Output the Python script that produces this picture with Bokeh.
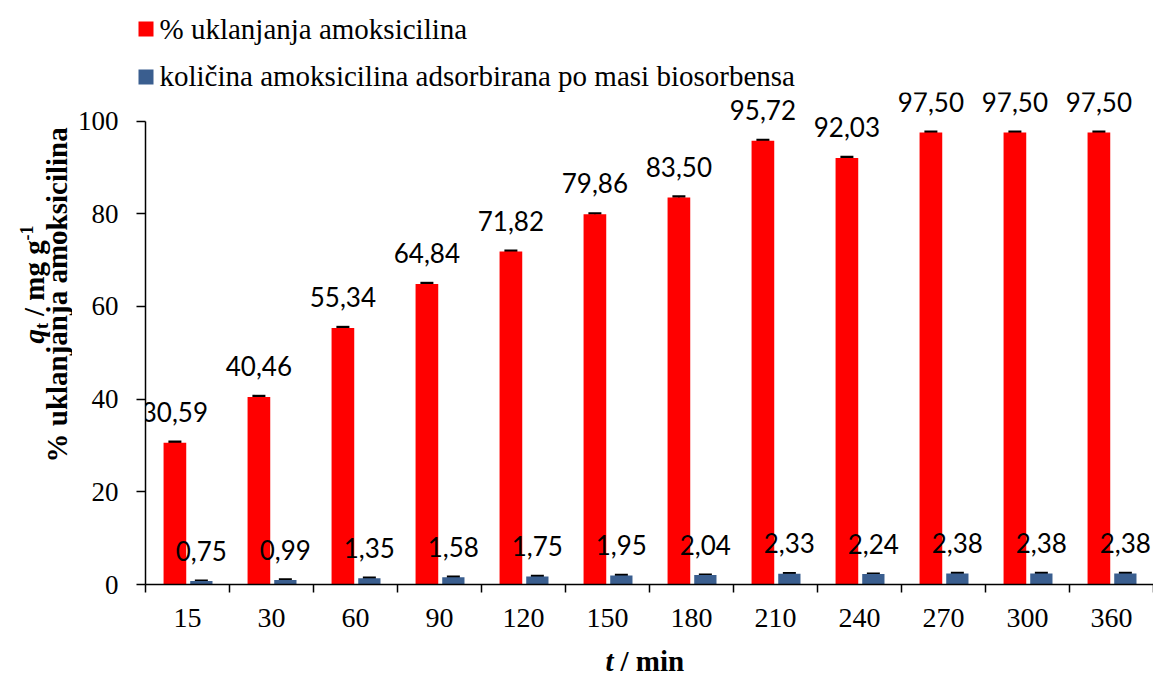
import math
from bokeh.plotting import figure
from bokeh.layouts import column, row
from bokeh.models import (ColumnDataSource, Range1d, FixedTicker, Whisker, TeeHead, Label)
from bokeh.core.properties import value
from bokeh.embed import file_html
from bokeh.resources import INLINE

# ---------------- data ----------------
times = ["15", "30", "60", "90", "120", "150", "180", "210", "240", "270", "300", "360"]
removal = [30.59, 40.46, 55.34, 64.84, 71.82, 79.86, 83.50, 95.72, 92.03, 97.50, 97.50, 97.50]
removal_err = [0.2] * 12
qt = [0.75, 0.99, 1.35, 1.58, 1.75, 1.95, 2.04, 2.33, 2.24, 2.38, 2.38, 2.38]
qt_err = [0.08] * 12
series_names = ["% uklanjanja amoksicilina",
                "količina amoksicilina adsorbirana po masi biosorbensa"]

RED = "#FF0000"
BLUE = "#3A5E8F"
SERIF = "Liberation Serif"

TOTAL_W = 1153
TOP_H = 92
LEFT_W = 72
MAIN_W = TOTAL_W - LEFT_W
MAIN_H = 546
MAIN_BOTTOM = 54
MAIN_LEFT = 73
BOT_H = 37
frame_h = MAIN_H - MAIN_BOTTOM
px_per_unit = 4.635
y_top = frame_h / px_per_unit

n = len(times)
idx = list(range(n))
x_red = [i + 0.35 for i in idx]
x_blue = [i + 0.665 for i in idx]

def fmt(v):
    return f"{v:.2f}".replace(".", ",")

src_red = ColumnDataSource(dict(x=x_red, top=removal, lo=[v - e for v, e in zip(removal, removal_err)],
                                hi=[v + e for v, e in zip(removal, removal_err)],
                                lab=[fmt(v) for v in removal]))
src_blue = ColumnDataSource(dict(x=x_blue, top=qt, lo=[v - e for v, e in zip(qt, qt_err)],
                                 hi=[v + e for v, e in zip(qt, qt_err)],
                                 lab=[fmt(v) for v in qt]))

def blank(w, h, bottom=0):
    f = figure(width=w, height=h, output_backend="svg", toolbar_location=None,
               x_axis_type=None, y_axis_type=None, x_range=Range1d(0, w), y_range=Range1d(0, h - bottom),
               min_border=0, min_border_left=0, min_border_right=0,
               min_border_top=0, min_border_bottom=bottom)
    f.outline_line_color = None
    f.xgrid.visible = False
    f.ygrid.visible = False
    f.background_fill_color = "white"
    f.border_fill_color = "white"
    return f

def lab(fig, x, y, text, size, style, angle=0.0, align="left", baseline="alphabetic"):
    fig.add_layout(Label(x=x, y=y, x_units="screen", y_units="screen", text=text,
                         text_font=SERIF, text_font_size=size, text_font_style=style,
                         text_color="black", angle=angle, text_align=align,
                         text_baseline=baseline))

# ---------------- main plot ----------------
p = figure(width=MAIN_W, height=MAIN_H, output_backend="svg", toolbar_location=None,
           x_range=Range1d(0, n), y_range=Range1d(0, y_top),
           min_border_left=MAIN_LEFT, min_border_right=0, min_border_top=0,
           min_border_bottom=MAIN_BOTTOM)
p.outline_line_color = None
p.xgrid.visible = False
p.ygrid.visible = False
p.background_fill_color = "white"
p.border_fill_color = "white"

p.vbar(x="x", top="top", width=0.27, source=src_red, fill_color=RED, line_color=None)
p.vbar(x="x", top="top", width=0.265, source=src_blue, fill_color=BLUE, line_color=None)

for s in (src_red, src_blue):
    p.add_layout(Whisker(base="x", upper="hi", lower="lo", source=s, dimension="height",
                         line_color="black", line_width=1.5,
                         upper_head=TeeHead(size=13, line_width=2.5, line_color="black"),
                         lower_head=None))

for s in (src_red, src_blue):
    p.text(x="x", y="hi", text="lab", source=s, text_align="center",
           text_baseline="alphabetic", y_offset=-30,
           text_font=value("Lato"), text_font_size="26px", text_color="black")

xa = p.xaxis[0]
xa.ticker = FixedTicker(ticks=[i + 0.5 for i in idx], minor_ticks=list(range(n + 1)))
xa.major_label_overrides = {i + 0.5: t for i, t in zip(idx, times)}
xa.major_tick_out = 8
xa.major_tick_in = 0
xa.major_tick_line_color = None
xa.minor_tick_out = 8
xa.minor_tick_in = 0
xa.minor_tick_line_color = "black"
xa.minor_tick_line_width = 1.5
xa.axis_line_color = "black"
xa.axis_line_width = 1.5
xa.major_label_text_font = SERIF
xa.major_label_text_font_size = "28px"
xa.major_label_text_color = "black"
xa.major_label_standoff = 16

ya = p.yaxis[0]
ya.ticker = FixedTicker(ticks=[0, 20, 40, 60, 80, 100], minor_ticks=[])
ya.bounds = (0, 100)
ya.major_tick_out = 9
ya.major_tick_in = 0
ya.major_tick_line_width = 1.5
ya.major_tick_line_color = "black"
ya.minor_tick_line_color = None
ya.axis_line_color = "black"
ya.axis_line_width = 1.5
ya.major_label_text_font = SERIF
ya.major_label_text_font_size = "27px"
ya.major_label_text_color = "black"
ya.major_label_standoff = 18

# ---------------- y-axis title strip (frame aligned with main frame) ----------------
left = blank(LEFT_W, MAIN_H, bottom=MAIN_BOTTOM)
rot = math.pi / 2
FB = TOP_H + frame_h          # page y of the frame bottom
lab(left, 56, FB - 462, series_names[0], "29px", "bold", rot)
lab(left, 33, FB - 343, "q", "29px", "bold italic", rot)
lab(left, 41, FB - 328.5, "t", "18px", "bold", rot)
lab(left, 33, FB - 315.5, "/ mg g", "29px", "bold", rot)
lab(left, 26, FB - 240, "-1", "18px", "bold", rot)

# ---------------- legend strip ----------------
top = blank(TOTAL_W, TOP_H)
sw_left = [138, 138]
sw_right = [153, 153]
sw_top = [TOP_H - 21, TOP_H - 69]
sw_bottom = [TOP_H - 36, TOP_H - 84]
top.quad(left=sw_left, right=sw_right, top=sw_top, bottom=sw_bottom,
         fill_color=[RED, BLUE], line_color=None)
lab(top, 159, TOP_H - 28, series_names[0], "29px", "normal", baseline="middle")
lab(top, 159, TOP_H - 75, series_names[1], "29px", "normal", baseline="middle")

# ---------------- x-axis title strip ----------------
bot = blank(TOTAL_W, BOT_H)
lab(bot, 605, 15, "t", "29px", "bold italic")
lab(bot, 620, 15, "/ min", "29px", "bold")

layout = column(top, row(left, p), bot)
open("out.html", "w").write(file_html(layout, INLINE))
